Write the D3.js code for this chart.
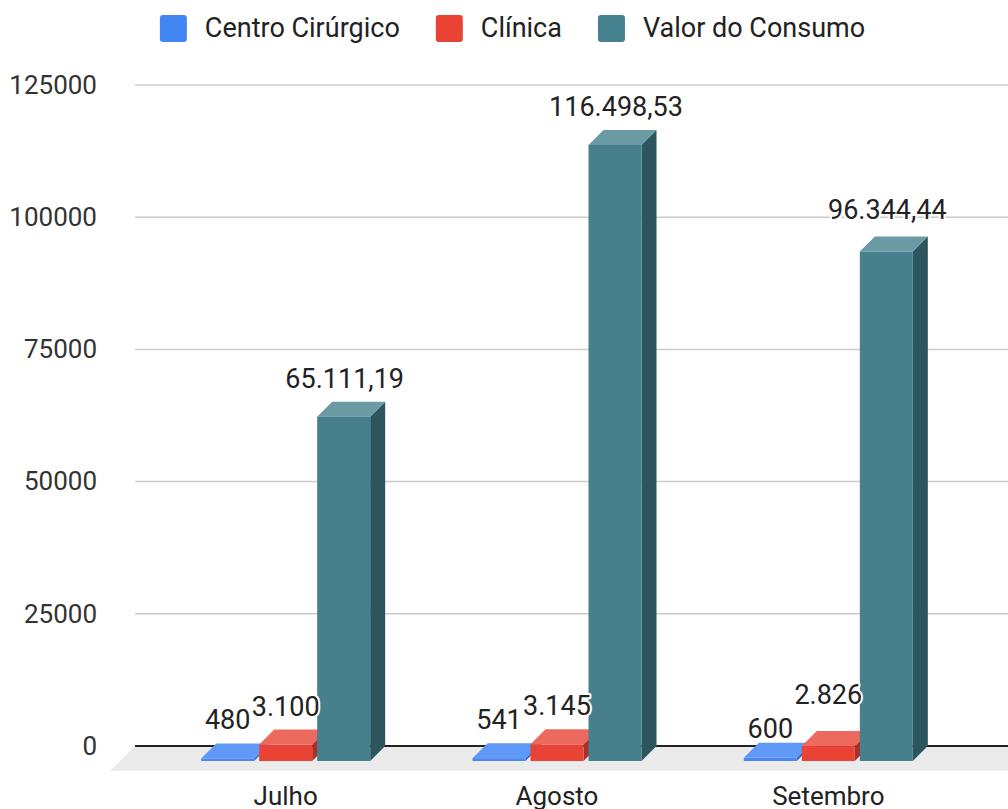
<!DOCTYPE html>
<html>
<head>
<meta charset="utf-8">
<script src="https://cdn.jsdelivr.net/npm/d3@7"></script>
<style>
  html, body { margin: 0; padding: 0; background: #fff; }
  svg { display: block; font-family: Roboto, "Noto Sans", Arial, sans-serif; }
</style>
</head>
<body>
<svg id="chart" width="1008" height="809"></svg>
<script>
// Monthly consumption per sector
const months = ["Julho", "Agosto", "Setembro"];
const seriesNames = ["Centro Cirúrgico", "Clínica", "Valor do Consumo"];
const centroCirurgico = [480, 541, 600];
const clinica = [3100, 3145, 2826];
const valorConsumo = [65111.19, 116498.53, 96344.44];
const yTicks = [0, 25000, 50000, 75000, 100000, 125000];

const seriesValues = [centroCirurgico, clinica, valorConsumo];

// Face colours for each series: front, top, side
const palette = [
  { front: "#4a89f3", top: "#5f98f6", side: "#3569c2", legend: "#4285f4" },
  { front: "#e94335", top: "#ec6a5d", side: "#a9302a", legend: "#ea4335" },
  { front: "#45808c", top: "#6a9aa4", side: "#2d555d", legend: "#45818e" }
];

const svg = d3.select("#chart");
const W = 1008;

// 3D depth offset of the bars and of the floor
const depth = 15;
const floorDepth = 25;

const y = d3.scaleLinear().domain([0, 125000]).range([746, 85]);
const x = d3.scaleBand().domain(months).range([165, 979]);
const xInner = d3.scaleBand().domain(seriesNames).range([0, 169]).paddingInner(5 / 58);

const plotLeft = 135;

// Gridlines
svg.append("g")
  .selectAll("line")
  .data(yTicks.filter(t => t !== 0))
  .join("line")
  .attr("x1", plotLeft).attr("x2", W + 20)
  .attr("y1", d => y(d)).attr("y2", d => y(d))
  .attr("stroke", "#cccccc").attr("stroke-width", 1.5);

// Y axis labels
const yAxis = d3.axisLeft(y).tickValues(yTicks).tickFormat(d3.format("d")).tickSize(0).tickPadding(0);
const yg = svg.append("g").attr("transform", "translate(97,0)").call(yAxis);
yg.select(".domain").remove();
yg.selectAll("text")
  .attr("font-size", 26)
  .attr("fill", "#333")
  .attr("font-family", "Roboto, Arial, sans-serif");

// Floor plane
const y0 = y(0);
svg.append("polygon")
  .attr("points", [
    [plotLeft, y0], [W + 30, y0],
    [W + 30 - floorDepth, y0 + floorDepth], [plotLeft - floorDepth, y0 + floorDepth]
  ].map(p => p.join(",")).join(" "))
  .attr("fill", "#ebebeb");

// Zero baseline
svg.append("line")
  .attr("x1", plotLeft).attr("x2", W + 20)
  .attr("y1", y0).attr("y2", y0)
  .attr("stroke", "#222").attr("stroke-width", 2);

// Bars
const bars = [];
months.forEach((m, i) => {
  seriesNames.forEach((s, j) => {
    const v = seriesValues[j][i];
    const bx = x(m) + x.bandwidth() / 2 - 84.5 + xInner(s); // back-left x
    bars.push({ month: m, series: j, value: v, bx, bw: xInner.bandwidth(), top: y(v) });
  });
});

const barG = svg.append("g");
bars.forEach(b => {
  const g = barG.append("g");
  const fl = b.bx - depth, fr = b.bx + b.bw - depth;
  const ft = b.top + depth, fb = y0 + depth;
  const c = palette[b.series];
  // side face
  g.append("polygon")
    .attr("points", [[fr, ft], [fr + depth, b.top], [fr + depth, y0], [fr, fb]].map(p => p.join(",")).join(" "))
    .attr("fill", c.side);
  // top face
  g.append("polygon")
    .attr("points", [[fl, ft], [fl + depth, b.top], [fr + depth, b.top], [fr, ft]].map(p => p.join(",")).join(" "))
    .attr("fill", c.top);
  // front face
  g.append("rect")
    .attr("x", fl).attr("y", ft)
    .attr("width", b.bw).attr("height", Math.max(0, fb - ft))
    .attr("fill", c.front);
});

// Value labels
const fmt = v => {
  const hasDec = Math.round(v) !== v;
  return v.toLocaleString("pt-BR", { minimumFractionDigits: hasDec ? 2 : 0, maximumFractionDigits: 2 });
};
// vertical nudges where neighbouring labels would collide
const labelNudge = { "Setembro": [9, -13, -4] };

svg.append("g")
  .selectAll("text")
  .data(bars)
  .join("text")
  .attr("x", d => d.bx + d.bw / 2 - depth + (d.series === 2 ? 1 : 0))
  .attr("y", d => d.top - 14 + ((labelNudge[d.month] || [0, 0, 0])[d.series]))
  .attr("text-anchor", "middle")
  .attr("font-size", 27)
  .attr("fill", "#222")
  .attr("stroke", "#fff").attr("stroke-width", 4)
  .attr("stroke-linejoin", "round")
  .attr("paint-order", "stroke")
  .text(d => fmt(d.value));

// Category labels
svg.append("g")
  .selectAll("text")
  .data(months)
  .join("text")
  .attr("x", d => x(d) + x.bandwidth() / 2 - depth)
  .attr("y", 805)
  .attr("text-anchor", "middle")
  .attr("font-size", 26)
  .attr("fill", "#222")
  .text(d => d);

// Legend
const legend = svg.append("g");
let lx = 0;
seriesNames.forEach((s, j) => {
  const g = legend.append("g");
  g.append("rect")
    .attr("x", 0).attr("y", 15).attr("width", 27).attr("height", 27)
    .attr("rx", 3).attr("fill", palette[j].legend);
  const t = g.append("text")
    .attr("x", 45).attr("y", 37)
    .attr("font-size", 27).attr("fill", "#222")
    .text(s);
  const w = 45 + t.node().getComputedTextLength();
  g.attr("transform", `translate(${lx},0)`);
  lx += w + 36;
});
const totalW = lx - 36;
legend.attr("transform", `translate(${512.5 - totalW / 2},0)`);
</script>
</body>
</html>
